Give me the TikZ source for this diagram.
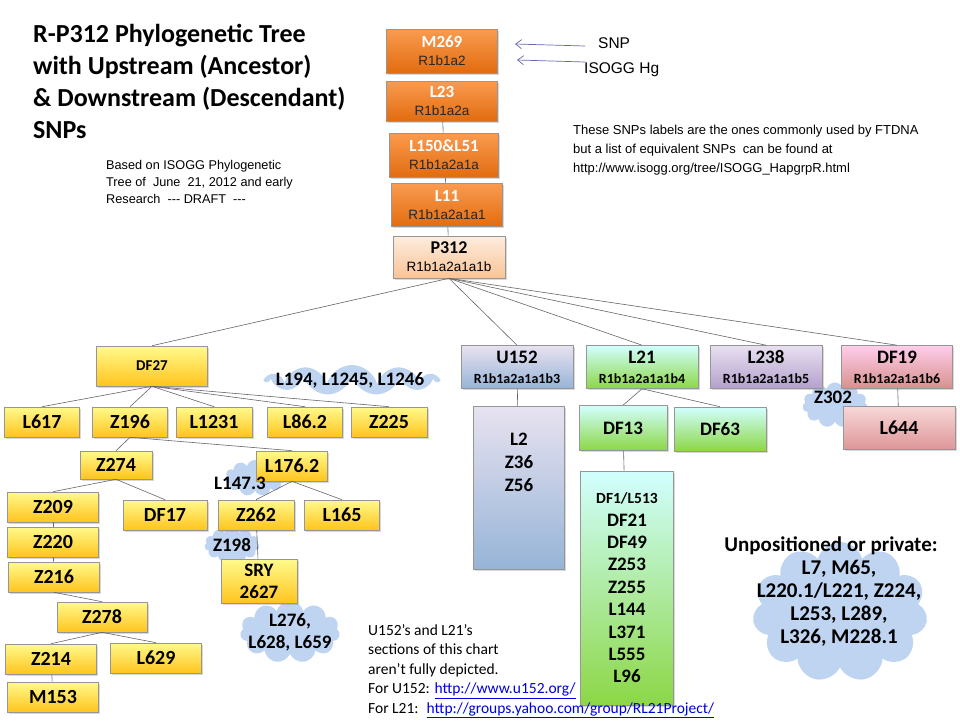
\documentclass[tikz,border=0pt]{standalone}
\usepackage{fontspec}
\setmainfont{Carlito}
\newfontfamily\arial{Liberation Sans}
\newcommand\subf{\arial\fontsize{13.5}{15}\selectfont}
\usetikzlibrary{shapes.symbols,shadows,arrows.meta}
\definecolor{orT}{RGB}{250,155,80}\definecolor{orB}{RGB}{226,108,15}
\definecolor{peT}{RGB}{253,236,222}\definecolor{peB}{RGB}{250,196,150}
\definecolor{yeT}{RGB}{255,250,140}\definecolor{yeB}{RGB}{255,196,30}
\definecolor{blT}{RGB}{232,226,240}\definecolor{blB}{RGB}{150,180,215}
\definecolor{grT}{RGB}{210,255,255}\definecolor{grB}{RGB}{140,215,70}
\definecolor{puT}{RGB}{232,224,240}\definecolor{puB}{RGB}{180,160,205}
\definecolor{pkT}{RGB}{255,205,235}\definecolor{pkB}{RGB}{215,145,140}
\definecolor{rdT}{RGB}{248,215,215}\definecolor{rdB}{RGB}{222,150,152}
\definecolor{cloudc}{RGB}{190,212,240}
\definecolor{edge}{RGB}{150,150,150}
\definecolor{lnk}{RGB}{0,0,220}
\tikzset{
 box/.style={draw=edge,line width=0.6pt,minimum width=#1,inner sep=1pt,align=center,drop shadow={shadow xshift=1.5pt,shadow yshift=-1.5pt,opacity=0.3}},
 orbox/.style={box=111pt,top color=orT,bottom color=orB,font=\bfseries\fontsize{17}{20}\selectfont,text=white},
 ybox/.style={box=#1,top color=yeT,bottom color=yeB,font=\bfseries\fontsize{20}{24}\selectfont,minimum height=30pt},
 cl/.style={cloud,cloud puffs=11,aspect=3,fill=cloudc,inner sep=0pt},
 cloudtxt/.style={font=\bfseries\fontsize{19}{23}\selectfont,align=center},
 lk/.style={draw=black!60,line width=0.6pt},
 tx/.style={anchor=north west,align=left,inner sep=0pt}
}
\begin{document}
\begin{tikzpicture}[x=1pt,y=-1pt]
\useasboundingbox (0,0) rectangle (960,720);
\fill[white] (0,0) rectangle (960,720);
% clouds first
\node[cl,minimum width=170pt,minimum height=30pt,aspect=4] (c1) at (352,380) {};
\node[cl,minimum width=60pt,minimum height=36pt] (c2) at (255,478) {};
\node[cl,minimum width=55pt,minimum height=36pt] (c3) at (232,545) {};
\node[cl,minimum width=100pt,minimum height=62pt,aspect=1.6] (c4) at (290,632) {};
\node[cl,minimum width=65pt,minimum height=45pt,aspect=1.4] (c5) at (835,405) {};
\node[cl,minimum width=175pt,minimum height=140pt,aspect=1.2] (c6) at (840,612) {};
% chain
\node[orbox,minimum height=44pt] (m269) at (442,51) {M269\\[-2pt]{\mdseries\subf\color{black!85}R1b1a2}};
\node[orbox,minimum height=40pt] (l23) at (442,101) {L23\\[-2pt]{\mdseries\subf\color{black!85}R1b1a2a}};
\node[orbox,minimum height=44pt,minimum width=109pt] (l150) at (444,155) {L150\&L51\\[-2pt]{\mdseries\subf\color{black!85}R1b1a2a1a}};
\node[orbox,minimum height=43pt] (l11) at (447,205) {L11\\[-2pt]{\mdseries\subf\color{black!85}R1b1a2a1a1}};
\node[box=112pt,top color=peT,bottom color=peB,minimum height=42pt,font=\bfseries\fontsize{18}{20}\selectfont] (p312) at (449,257) {P312\\[-2pt]{\mdseries\subf R1b1a2a1a1b}};
\draw[lk] (l23)--(l150); \draw[lk] (l150)--(l11); \draw[lk] (l11)--(p312);
% arrows
\coordinate (a1) at (585,46); \coordinate (a2) at (585,62);
\coordinate (b1) at (515,44); \coordinate (b2) at (517,60);
\draw[-{Straight Barb[length=6pt,width=9pt]},draw=blue!50!black!60,line width=0.7pt] (a1)--(b1);
\draw[-{Straight Barb[length=6pt,width=9pt]},draw=blue!50!black!60,line width=0.7pt] (a2)--(b2);
\node[tx,font=\arial\fontsize{15.5}{17}\selectfont] (snp) at (598,37) {SNP};
\node[tx,font=\arial\fontsize{15.5}{17}\selectfont] (hg) at (584,62) {ISOGG Hg};
% texts
\node[tx,font=\bfseries\fontsize{26}{32}\selectfont] (title) at (33,24) {R-P312 Phylogenetic Tree\\with Upstream (Ancestor)\\\& Downstream (Descendant)\\SNPs};
\node[tx,font=\arial\fontsize{12.7}{17}\selectfont] (based) at (106,160) {Based on ISOGG Phylogenetic\\Tree of~ June~ 21, 2012 and early\\Research~ --- DRAFT~ ---};
\node[tx,font=\arial\fontsize{13}{19}\selectfont] (note) at (573,125) {These SNPs labels are the ones commonly used by FTDNA\\but a list of equivalent SNPs~ can be found at\\http://www.isogg.org/tree/ISOGG\_HapgrpR.html};
% second level
\node[ybox=111pt,minimum height=40pt,font=\bfseries\fontsize{15}{16}\selectfont] (df27) at (152,366) {DF27};
\node[box=112pt,top color=blT,bottom color=blB,minimum height=43pt,font=\bfseries\fontsize{19}{20}\selectfont] (u152) at (517,367) {U152\\{\fontsize{14}{16}\selectfont R1b1a2a1a1b3}};
\node[box=112pt,top color=grT,bottom color=grB,minimum height=43pt,font=\bfseries\fontsize{19}{20}\selectfont] (l21) at (642,367) {L21\\{\fontsize{14}{16}\selectfont R1b1a2a1a1b4}};
\node[box=112pt,top color=puT,bottom color=puB,minimum height=43pt,font=\bfseries\fontsize{19}{20}\selectfont] (l238) at (766,367) {L238\\{\fontsize{14}{16}\selectfont R1b1a2a1a1b5}};
\node[box=111pt,top color=pkT,bottom color=pkB,minimum height=43pt,font=\bfseries\fontsize{19}{20}\selectfont] (df19) at (897,367) {DF19\\{\fontsize{14}{16}\selectfont R1b1a2a1a1b6}};
\foreach \n in {df27,u152,l21,l238,df19} \draw[lk] (p312.south)--(\n.north);
% DF27 subtree
\node[ybox=75pt] (l617) at (42,422) {L617};
\node[ybox=75pt] (z196) at (130,422) {Z196};
\node[ybox=76pt] (l1231) at (214,422) {L1231};
\node[ybox=75pt] (l862) at (305,422) {L86.2};
\node[ybox=76pt] (z225) at (389,422) {Z225};
\foreach \n in {l617,z196,l1231,l862,z225} \draw[lk] (df27.south)--(\n.north);
\node[cloudtxt] (t1) at (350,380) {L194, L1245, L1246};
\node[ybox=72pt,minimum height=28pt] (z274) at (116,465) {Z274};
\node[ybox=71pt] (l1762) at (292,466) {L176.2};
\draw[lk] (z196.south)--(z274.north); \draw[lk] (z196.south)--(l1762.north);
\node[cloudtxt] (t2) at (240,483) {L147.3};
\node[ybox=91pt] (z209) at (53,507) {Z209};
\node[ybox=84pt] (df17) at (165,515) {DF17};
\node[ybox=76pt] (z262) at (256,515) {Z262};
\node[ybox=75pt] (l165) at (342,515) {L165};
\draw[lk] (z274.south)--(z209.north); \draw[lk] (z274.south)--(df17.north);
\draw[lk] (l1762.south)--(z262.north); \draw[lk] (l1762.south)--(l165.north);
\node[ybox=91pt] (z220) at (53,542) {Z220};
\node[ybox=91pt] (z216) at (54,577) {Z216};
\draw[lk] (z209)--(z220); \draw[lk] (z220)--(z216);
\node[cloudtxt] (t3) at (232,545) {Z198};
\node[ybox=76pt,minimum height=44pt,font=\bfseries\fontsize{19}{22}\selectfont] (sry) at (259,581) {SRY\\2627};
\draw[lk] (z262)--(sry);
\node[ybox=90pt] (z278) at (102,617) {Z278};
\draw[lk] (z216.south)--(z278.north);
\node[ybox=91pt] (z214) at (51,659) {Z214};
\node[ybox=91pt] (l629) at (156,658) {L629};
\draw[lk] (z278.south)--(z214.north); \draw[lk] (z278.south)--(l629.north);
\node[ybox=91pt] (m153) at (53,697) {M153};
\draw[lk] (z214)--(m153);
\node[cloudtxt,font=\bfseries\fontsize{19}{22}\selectfont] (t4) at (290,632) {L276,\\L628, L659};
% U152
\node[box=91pt,top color=blT,bottom color=blB,minimum height=163pt,font=\bfseries\fontsize{19}{23}\selectfont] (l2) at (519,488) {L2\\Z36\\Z56\\[28pt]};
\draw[lk] (u152)--(l2);
% L21
\node[box=88pt,top color=grT,bottom color=grB,minimum height=45pt,font=\bfseries\fontsize{19}{22}\selectfont] (df13) at (623,428) {DF13};
\node[box=92pt,top color=grT,bottom color=grB,minimum height=44pt,font=\bfseries\fontsize{19}{22}\selectfont] (df63) at (720,429) {DF63};
\draw[lk] (l21.south)--(df13.north); \draw[lk] (l21.south)--(df63.north);
\node[box=93pt,top color=grT,bottom color=grB,minimum height=234pt,font=\bfseries\fontsize{19}{22.4}\selectfont] (df1) at (627,588) {{\fontsize{15.5}{20}\selectfont DF1/L513}\\DF21\\DF49\\Z253\\Z255\\L144\\L371\\L555\\L96};
\draw[lk] (df13)--(df1);
\node[tx,font=\fontsize{15.5}{19.5}\selectfont] (bot) at (368,624) {U152’s and L21’s\\sections of this chart\\aren’t fully depicted.\\For U152: {\color{lnk}\underline{http://www.u152.org/}}\\For L21:~ {\color{lnk}\underline{http://groups.yahoo.com/group/RL21Project/}}};
% DF19
\node[cloudtxt] (t5) at (833,397) {Z302};
\node[box=112pt,top color=rdT,bottom color=rdB,minimum height=43pt,font=\bfseries\fontsize{20}{22}\selectfont] (l644) at (899,428) {L644};
\draw[lk] (df19)--(l644);
% unpositioned
\node[font=\bfseries\fontsize{21}{23}\selectfont] (un) at (831,546) {Unpositioned or private:};
\node[font=\bfseries\fontsize{21}{23}\selectfont,align=center] (ul) at (839,603) {L7, M65,\\L220.1/L221, Z224,\\L253, L289,\\L326, M228.1};
\end{tikzpicture}
\end{document}
